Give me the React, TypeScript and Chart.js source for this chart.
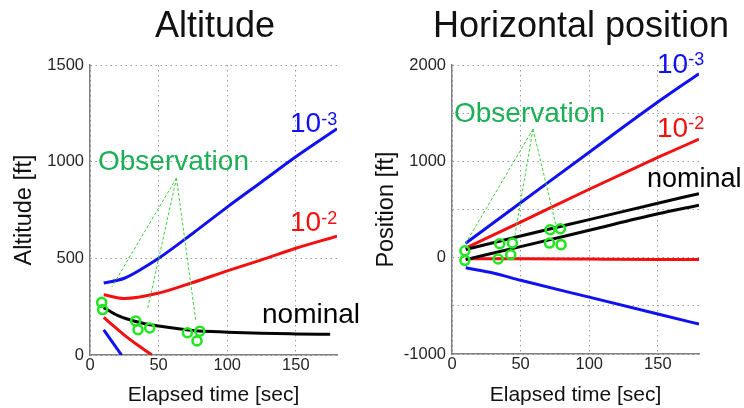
import React, { useEffect, useRef } from 'react';
import { Chart, registerables } from 'chart.js';

Chart.register(...registerables);

const FONT = "'Liberation Sans', Arial, Helvetica, sans-serif";

// ---- shared axis ticks ----
const X_TICKS = [0, 50, 100, 150];
const ALT_Y_TICKS = [0, 500, 1000, 1500];
const POS_Y_TICKS = [-1000, -500, 0, 500, 1000, 1500, 2000];
const POS_Y_LABELED = [-1000, 0, 1000, 2000];

// ---- Altitude chart ----
const altBlueUpT = [10, 25, 40, 50, 75, 100, 125, 150, 180];
const altBlueUpV = [372, 397, 455, 500, 630, 765, 895, 1025, 1170];
const altRedUpT = [10, 25, 50, 75, 100, 125, 150, 180];
const altRedUpV = [312, 292, 320, 375, 435, 492, 552, 615];
const altNomT = [10, 20, 30, 40, 50, 75, 100, 125, 150, 175];
const altNomV = [245, 205, 180, 162, 150, 127, 118, 112, 109, 107];
const altRedLoT = [10, 18, 25, 35, 45];
const altRedLoV = [195, 145, 103, 50, 0];
const altBlueLoT = [10, 23];
const altBlueLoV = [130, 0];
const altObsT = [8.5, 9.2, 33.3, 35, 43.5, 71, 80, 78];
const altObsV = [272, 235, 176, 131, 140, 115, 123, 73];
const altApexT = 63;
const altApexV = 915;
const altPointerT = [16, 42, 77];
const altPointerV = [353, 240, 181];

// ---- Horizontal position chart ----
const posBlueUpT = [10, 50, 100, 150, 180];
const posBlueUpV = [150, 570, 1095, 1615, 1910];
const posRedUpT = [10, 50, 100, 150, 180];
const posRedUpV = [100, 370, 710, 1040, 1230];
const posNomUpT = [10, 50, 100, 150, 180];
const posNomUpV = [85, 225, 395, 565, 665];
const posNomLoT = [10, 50, 100, 150, 180];
const posNomLoV = [-20, 115, 285, 455, 545];
const posRedLoT = [10, 50, 100, 150, 180];
const posRedLoV = [-10, -12, -15, -18, -20];
const posBlueLoT = [10, 30, 50, 100, 150, 180];
const posBlueLoV = [-105, -160, -235, -410, -585, -690];
const posObsT = [9.4, 9.4, 33.6, 34.8, 44, 42.8, 71.5, 79, 71, 79.5];
const posObsV = [72, -28, -14, 145, 152, 31, 290, 300, 152, 135];
const posApexT = 59;
const posApexV = 1334;
const posPointerT = [9.4, 45.7, 76];
const posPointerV = [135, 218, 324];

const BLUE = '#1010f0';
const RED = '#f21010';
const BLACK = '#050505';
const CIRCLE = '#22e622';
const POINTER = '#3fd03f';
const OBS_TEXT = '#1caf55';

function pts(t: number[], v: number[]) {
  return t.map((x, i) => ({ x, y: v[i] }));
}

function lineDs(t: number[], v: number[], color: string) {
  return {
    data: pts(t, v),
    borderColor: color,
    backgroundColor: color,
    borderWidth: 3,
    pointRadius: 0,
    fill: false,
    cubicInterpolationMode: 'monotone',
    tension: 0.4,
  };
}

function pointerDs(apexT: number, apexV: number, t: number[], v: number[]) {
  return t.map((x, i) => ({
    data: [{ x: apexT, y: apexV }, { x, y: v[i] }],
    borderColor: POINTER,
    borderWidth: 1,
    borderDash: [3, 2],
    pointRadius: 0,
    fill: false,
  }));
}

function obsDs(t: number[], v: number[]) {
  return {
    data: pts(t, v),
    showLine: false,
    pointRadius: 4.5,
    pointBorderWidth: 2.6,
    pointBorderColor: CIRCLE,
    pointBackgroundColor: 'rgba(255,255,255,0)',
    borderColor: CIRCLE,
    clip: false,
  };
}

type TextItem = {
  text: string;
  x: number;
  y: number;
  size: number;
  color: string;
  align?: CanvasTextAlign;
  sup?: string;
  supSize?: number;
  supRise?: number;
};

function textPlugin(items: TextItem[]) {
  return {
    id: 'texts',
    afterDraw(chart: any) {
      const ctx: CanvasRenderingContext2D = chart.ctx;
      ctx.save();
      ctx.textBaseline = 'alphabetic';
      for (const it of items) {
        ctx.font = `${it.size}px ${FONT}`;
        ctx.fillStyle = it.color;
        ctx.textAlign = it.align || 'left';
        ctx.fillText(it.text, it.x, it.y);
        if (it.sup) {
          const w = ctx.measureText(it.text).width;
          ctx.font = `${it.supSize}px ${FONT}`;
          ctx.textAlign = 'left';
          ctx.fillText(it.sup, it.x + w, it.y - (it.supRise || 0));
        }
      }
      ctx.restore();
    },
  };
}

function axisCommon() {
  return {
    grid: { color: '#9a9a9a', lineWidth: 1, drawTicks: false },
    border: { display: true, color: '#808080', width: 1.5, dash: [1.5, 3.5] },
  };
}

function makeConfig(opts: {
  datasets: any[];
  yMin: number;
  yMax: number;
  yTicks: number[];
  yLabeled: number[];
  yTitle: string;
  padLeft: number;
  padRight: number;
  xHeight: number;
  texts: TextItem[];
}) {
  return {
    type: 'line',
    data: { datasets: opts.datasets },
    options: {
      responsive: false,
      maintainAspectRatio: false,
      animation: false,
      devicePixelRatio: 1,
      layout: { padding: { left: opts.padLeft, right: opts.padRight, top: 65, bottom: 0 } },
      plugins: { legend: { display: false }, tooltip: { enabled: false }, title: { display: false } },
      scales: {
        x: {
          type: 'linear',
          min: 0,
          max: 180,
          afterBuildTicks: (s: any) => {
            s.ticks = X_TICKS.map((value) => ({ value }));
          },
          afterFit: (s: any) => {
            s.height = opts.xHeight;
          },
          ticks: {
            font: { family: FONT, size: 16.5 },
            color: '#262626',
            padding: 1,
            maxRotation: 0,
            autoSkip: false,
          },
          title: {
            display: true,
            text: 'Elapsed time [sec]',
            font: { family: FONT, size: 21 },
            color: '#111',
            padding: 0,
          },
          ...axisCommon(),
        },
        y: {
          type: 'linear',
          min: opts.yMin,
          max: opts.yMax,
          afterBuildTicks: (s: any) => {
            s.ticks = opts.yTicks.map((value) => ({ value }));
          },
          afterFit: (s: any) => {
            s.width = 80;
          },
          ticks: {
            font: { family: FONT, size: 16.5 },
            color: '#262626',
            padding: 6,
            autoSkip: false,
            callback: (v: number) => (opts.yLabeled.includes(v) ? String(v) : ''),
          },
          title: {
            display: true,
            text: opts.yTitle,
            font: { family: FONT, size: 23.5 },
            color: '#111',
            padding: 0,
          },
          ...axisCommon(),
        },
      },
    },
    plugins: [textPlugin(opts.texts)],
  };
}

const altConfig = () =>
  makeConfig({
    datasets: [
      obsDs(altObsT, altObsV),
      ...pointerDs(altApexT, altApexV, altPointerT, altPointerV),
      lineDs(altNomT, altNomV, BLACK),
      lineDs(altRedUpT, altRedUpV, RED),
      lineDs(altRedLoT, altRedLoV, RED),
      lineDs(altBlueUpT, altBlueUpV, BLUE),
      lineDs(altBlueLoT, altBlueLoV, BLUE),
    ],
    yMin: 0,
    yMax: 1500,
    yTicks: ALT_Y_TICKS,
    yLabeled: ALT_Y_TICKS,
    yTitle: 'Altitude [ft]',
    padLeft: 10,
    padRight: 35,
    xHeight: 53,
    texts: [
      { text: 'Altitude', x: 215, y: 37, size: 36, color: '#111', align: 'center' },
      { text: 'Observation', x: 98, y: 170, size: 28, color: OBS_TEXT },
      { text: '10', x: 290, y: 132, size: 28, color: BLUE, sup: '-3', supSize: 18, supRise: 7 },
      { text: '10', x: 290, y: 231, size: 28, color: RED, sup: '-2', supSize: 18, supRise: 7 },
      { text: 'nominal', x: 262, y: 323, size: 28, color: BLACK },
    ],
  });

const posConfig = () =>
  makeConfig({
    datasets: [
      obsDs(posObsT, posObsV),
      ...pointerDs(posApexT, posApexV, posPointerT, posPointerV),
      lineDs(posNomUpT, posNomUpV, BLACK),
      lineDs(posNomLoT, posNomLoV, BLACK),
      lineDs(posRedUpT, posRedUpV, RED),
      lineDs(posRedLoT, posRedLoV, RED),
      lineDs(posBlueUpT, posBlueUpV, BLUE),
      lineDs(posBlueLoT, posBlueLoV, BLUE),
    ],
    yMin: -1000,
    yMax: 2000,
    yTicks: POS_Y_TICKS,
    yLabeled: POS_Y_LABELED,
    yTitle: 'Position [ft]',
    padLeft: 0,
    padRight: 45,
    xHeight: 54,
    texts: [
      { text: 'Horizontal position', x: 209, y: 37, size: 36, color: '#111', align: 'center' },
      { text: 'Observation', x: 82, y: 122, size: 28, color: OBS_TEXT },
      { text: '10', x: 285, y: 73, size: 28, color: BLUE, sup: '-3', supSize: 18, supRise: 8 },
      { text: '10', x: 285, y: 137, size: 28, color: RED, sup: '-2', supSize: 18, supRise: 8 },
      { text: 'nominal', x: 275, y: 187, size: 27, color: BLACK },
    ],
  });

function ChartCanvas({ makeCfg, left }: { makeCfg: () => any; left: number }) {
  const ref = useRef<HTMLCanvasElement>(null);
  useEffect(() => {
    const chart = new Chart(ref.current as HTMLCanvasElement, makeCfg());
    return () => chart.destroy();
  }, []);
  return (
    <canvas
      ref={ref}
      width={372}
      height={408}
      style={{ position: 'absolute', left, top: 0, width: 372, height: 408 }}
    />
  );
}

export default function App() {
  return (
    <div
      style={{
        position: 'fixed',
        left: 0,
        top: 0,
        width: 744,
        height: 408,
        background: '#ffffff',
        overflow: 'hidden',
      }}
    >
      <ChartCanvas makeCfg={altConfig} left={0} />
      <ChartCanvas makeCfg={posConfig} left={372} />
    </div>
  );
}
